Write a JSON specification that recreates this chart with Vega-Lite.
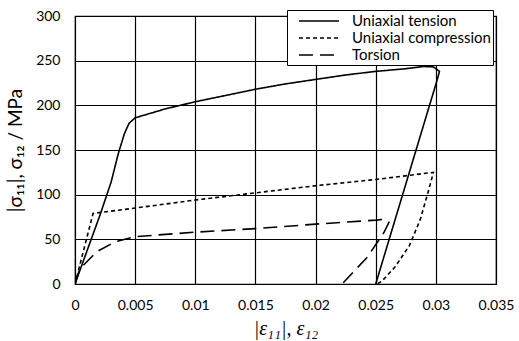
{
  "$schema": "https://vega.github.io/schema/vega-lite/v6.json",
  "width": 421,
  "height": 268,
  "autosize": "none",
  "padding": {"left": 75, "top": 16, "right": 23, "bottom": 57},
  "background": "white",
  "config": {
    "font": "Lato",
    "view": {"stroke": "black", "strokeWidth": 1.2},
    "axis": {"labelFont": "Lato", "labelFontSize": 14, "labelColor": "black", "gridColor": "black", "gridWidth": 1.2, "gridOpacity": 1, "domainColor": "black", "tickSize": 0, "titleColor": "black", "titleFontWeight": "normal"}
  },
  "data": {"values": [
    {"s": "Uniaxial tension", "i": 0, "x": 0, "y": 0},
    {"s": "Uniaxial tension", "i": 1, "x": 0.0021, "y": 78},
    {"s": "Uniaxial tension", "i": 2, "x": 0.003, "y": 114},
    {"s": "Uniaxial tension", "i": 3, "x": 0.0036, "y": 146},
    {"s": "Uniaxial tension", "i": 4, "x": 0.0041, "y": 168},
    {"s": "Uniaxial tension", "i": 5, "x": 0.0045, "y": 180},
    {"s": "Uniaxial tension", "i": 6, "x": 0.005, "y": 186},
    {"s": "Uniaxial tension", "i": 7, "x": 0.0075, "y": 196},
    {"s": "Uniaxial tension", "i": 8, "x": 0.01, "y": 204},
    {"s": "Uniaxial tension", "i": 9, "x": 0.0125, "y": 211},
    {"s": "Uniaxial tension", "i": 10, "x": 0.015, "y": 218},
    {"s": "Uniaxial tension", "i": 11, "x": 0.0175, "y": 224},
    {"s": "Uniaxial tension", "i": 12, "x": 0.02, "y": 229},
    {"s": "Uniaxial tension", "i": 13, "x": 0.0225, "y": 234},
    {"s": "Uniaxial tension", "i": 14, "x": 0.025, "y": 238},
    {"s": "Uniaxial tension", "i": 15, "x": 0.0275, "y": 241},
    {"s": "Uniaxial tension", "i": 16, "x": 0.029, "y": 243.5},
    {"s": "Uniaxial tension", "i": 17, "x": 0.0298, "y": 243},
    {"s": "Uniaxial tension", "i": 18, "x": 0.0303, "y": 238},
    {"s": "Uniaxial tension", "i": 19, "x": 0.0301, "y": 228},
    {"s": "Uniaxial tension", "i": 20, "x": 0.025, "y": 0},
    {"s": "Uniaxial compression", "i": 0, "x": 0, "y": 0},
    {"s": "Uniaxial compression", "i": 1, "x": 0.0015, "y": 79},
    {"s": "Uniaxial compression", "i": 2, "x": 0.005, "y": 85},
    {"s": "Uniaxial compression", "i": 3, "x": 0.01, "y": 94},
    {"s": "Uniaxial compression", "i": 4, "x": 0.015, "y": 102},
    {"s": "Uniaxial compression", "i": 5, "x": 0.02, "y": 110},
    {"s": "Uniaxial compression", "i": 6, "x": 0.025, "y": 117},
    {"s": "Uniaxial compression", "i": 7, "x": 0.0298, "y": 125},
    {"s": "Uniaxial compression", "i": 8, "x": 0.0294, "y": 105},
    {"s": "Uniaxial compression", "i": 9, "x": 0.0287, "y": 72},
    {"s": "Uniaxial compression", "i": 10, "x": 0.0278, "y": 43},
    {"s": "Uniaxial compression", "i": 11, "x": 0.0266, "y": 19},
    {"s": "Uniaxial compression", "i": 12, "x": 0.0255, "y": 3},
    {"s": "Uniaxial compression", "i": 13, "x": 0.0251, "y": 0},
    {"s": "Torsion", "i": 0, "x": 0, "y": 0},
    {"s": "Torsion", "i": 1, "x": 0.0004, "y": 17},
    {"s": "Torsion", "i": 2, "x": 0.0018, "y": 36},
    {"s": "Torsion", "i": 3, "x": 0.0033, "y": 47},
    {"s": "Torsion", "i": 4, "x": 0.005, "y": 53},
    {"s": "Torsion", "i": 5, "x": 0.01, "y": 58},
    {"s": "Torsion", "i": 6, "x": 0.015, "y": 62},
    {"s": "Torsion", "i": 7, "x": 0.02, "y": 67},
    {"s": "Torsion", "i": 8, "x": 0.025, "y": 71.5},
    {"s": "Torsion", "i": 9, "x": 0.0257, "y": 72.5},
    {"s": "Torsion", "i": 10, "x": 0.0261, "y": 69},
    {"s": "Torsion", "i": 11, "x": 0.0257, "y": 58},
    {"s": "Torsion", "i": 12, "x": 0.0243, "y": 30},
    {"s": "Torsion", "i": 13, "x": 0.0222, "y": 0}
  ]},
  "mark": {"type": "line", "color": "black", "strokeWidth": 1.6, "clip": true},
  "encoding": {
    "x": {"field": "x", "type": "quantitative", "scale": {"domain": [0, 0.035], "nice": false},
      "axis": {"values": [0, 0.005, 0.01, 0.015, 0.02, 0.025, 0.03, 0.035], "format": "~g", "labelPadding": 14, "title": "|ε₁₁|, ε₁₂", "titleFont": "Liberation Serif", "titleFontStyle": "italic", "titleFontSize": 20, "titlePadding": 6, "labelFlush": false}},
    "y": {"field": "y", "type": "quantitative", "scale": {"domain": [0, 300], "nice": false},
      "axis": {"values": [0, 50, 100, 150, 200, 250, 300], "labelPadding": 15, "title": "|σ₁₁|, σ₁₂ / MPa", "titleFont": "Lato", "titleFontSize": 19, "titlePadding": 10, "labelFlush": false}},
    "order": {"field": "i", "type": "quantitative"},
    "detail": {"field": "s"},
    "strokeDash": {"field": "s", "type": "nominal",
      "scale": {"domain": ["Uniaxial tension", "Uniaxial compression", "Torsion"], "range": [[1, 0], [4, 3], [14, 7]]},
      "legend": {"title": null, "orient": "none", "legendX": 212, "legendY": -6, "strokeColor": "black", "fillColor": "white", "padding": 2, "symbolType": "M -2.5 0 H 2.5", "symbolSize": 256, "symbolOffset": 21, "symbolStrokeColor": "black", "symbolStrokeWidth": 1.6, "labelFontSize": 15, "labelFont": "Lato", "labelColor": "black", "rowPadding": -2, "labelOffset": 24, "cornerRadius": 0}}
  }
}
